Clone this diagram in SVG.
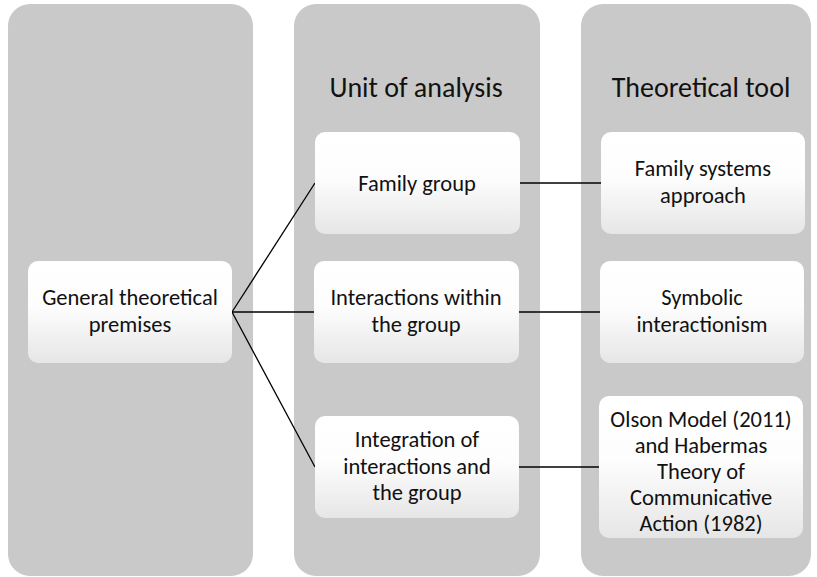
<svg xmlns="http://www.w3.org/2000/svg" width="817" height="577" viewBox="0 0 817 577">
  <defs>
    <linearGradient id="boxFill" x1="0" y1="0" x2="0" y2="1">
      <stop offset="0" stop-color="#ffffff"/>
      <stop offset="0.45" stop-color="#fdfdfd"/>
      <stop offset="1" stop-color="#e6e6e6"/>
    </linearGradient>
  </defs>
  <style>
    .col { fill: #c9c9c9; }
    .box { fill: url(#boxFill); }
    .head { font-family: Carlito, Calibri, Lato, sans-serif; font-size: 28px; fill: #111; text-anchor: middle; }
    .lbl { font-family: Carlito, Calibri, Lato, sans-serif; font-size: 22.5px; fill: #111; text-anchor: middle; }
    .link { stroke: #000; stroke-width: 1.3; fill: none; }
  </style>

  <!-- background columns -->
  <g id="columns">
    <rect class="col" x="8" y="4" width="245" height="572" rx="22"/>
    <rect class="col" x="294" y="4" width="246" height="572" rx="22"/>
    <rect class="col" x="581" y="4" width="230" height="572" rx="22"/>
    <text class="head" x="416" y="97">Unit of analysis</text>
    <text class="head" x="701" y="97">Theoretical tool</text>
  </g>

  <!-- connectors -->
  <g id="connectors">
    <line class="link" x1="232" y1="312" x2="315" y2="183"/>
    <line class="link" x1="232" y1="312" x2="314" y2="312"/>
    <line class="link" x1="232" y1="312" x2="315" y2="467"/>
    <line class="link" x1="520" y1="183" x2="601" y2="183"/>
    <line class="link" x1="519" y1="312" x2="600" y2="312"/>
    <line class="link" x1="519" y1="467" x2="599" y2="467"/>
  </g>

  <g id="general">
    <rect class="box" x="28" y="261" width="204" height="102" rx="10"/>
    <text class="lbl" x="130" y="305">General theoretical<tspan x="130" dy="26.5">premises</tspan></text>
  </g>

  <g id="family-group">
    <rect class="box" x="315" y="132" width="205" height="102" rx="10"/>
    <text class="lbl" x="417" y="191">Family group</text>
  </g>

  <g id="interactions">
    <rect class="box" x="314" y="261" width="205" height="102" rx="10"/>
    <text class="lbl" x="416" y="305">Interactions within<tspan x="416" dy="26.5">the group</tspan></text>
  </g>

  <g id="integration">
    <rect class="box" x="315" y="416" width="204" height="102" rx="10"/>
    <text class="lbl" x="417" y="447">Integration of<tspan x="417" dy="26.5">interactions and</tspan><tspan x="417" dy="26.5">the group</tspan></text>
  </g>

  <g id="family-systems">
    <rect class="box" x="601" y="132" width="204" height="102" rx="10"/>
    <text class="lbl" x="703" y="176">Family systems<tspan x="703" dy="26.5">approach</tspan></text>
  </g>

  <g id="symbolic">
    <rect class="box" x="600" y="261" width="204" height="102" rx="10"/>
    <text class="lbl" x="702" y="305">Symbolic<tspan x="702" dy="26.5">interactionism</tspan></text>
  </g>

  <g id="olson-habermas">
    <rect class="box" x="599" y="396" width="204" height="142" rx="10"/>
    <text class="lbl" x="701" y="427">Olson Model (2011)<tspan x="701" dy="26">and Habermas</tspan><tspan x="701" dy="26">Theory of</tspan><tspan x="701" dy="26">Communicative</tspan><tspan x="701" dy="26">Action (1982)</tspan></text>
  </g>
</svg>
